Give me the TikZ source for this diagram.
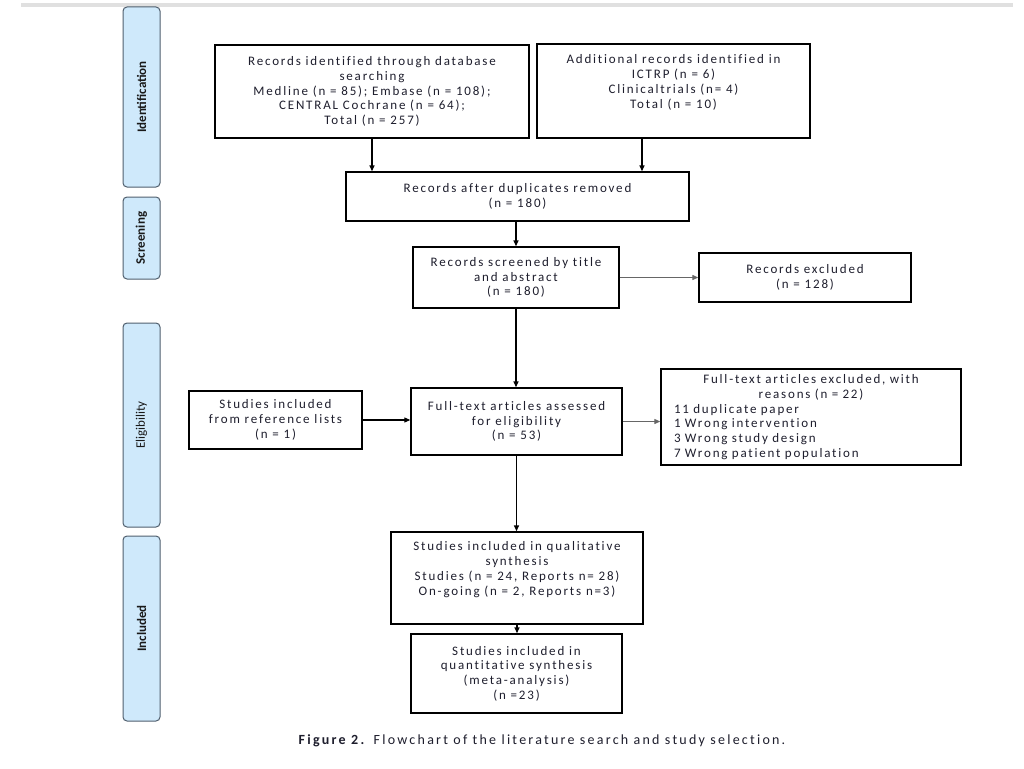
\documentclass[tikz,border=0pt]{standalone}
\usepackage{fontspec}
\setmainfont[LetterSpace=14,Ligatures=NoCommon]{Carlito}
\newfontfamily\sidefont{Carlito}
\newfontfamily\capfont[LetterSpace=16,Ligatures=NoCommon]{Carlito}
\usetikzlibrary{arrows.meta}
\definecolor{barfill}{RGB}{207,233,251}
\definecolor{barline}{RGB}{80,95,110}
\definecolor{txt}{RGB}{30,30,45}
\begin{document}
\begin{tikzpicture}[x=1pt,y=-1pt,
  box/.style={draw=black,line width=1.4pt,fill=white,inner sep=0pt,align=center,
    font=\fontsize{13}{14.7}\selectfont,text=txt},
  bar/.style={draw=barline,line width=1pt,fill=barfill,rounded corners=4pt,rotate=90,
    minimum height=37pt,inner sep=0pt,font=\sidefont\fontsize{13}{15}\selectfont,text=black!90},
  arr/.style={-{Triangle[length=6pt,width=5pt]},line width=1.4pt},
  garr/.style={-{Triangle[length=6pt,width=5pt]},line width=1.2pt,draw=black!60},
]
\useasboundingbox (0,0) rectangle (1024,768);
\fill[white] (0,0) rectangle (1024,768);
\fill[black!12] (21,3) rectangle (1013,7);

% side bars
\node[bar,minimum width=180pt] (sid) at (141.5,97) {\bfseries Identification};
\node[bar,minimum width=82pt] (ssc) at (141.5,238) {\bfseries Screening};
\node[bar,minimum width=204pt] (sel) at (141.5,425) {Eligibility};
\node[bar,minimum width=185pt] (sin) at (141.5,628.5) {\bfseries Included};

% boxes
\node[box,minimum width=314pt,minimum height=93pt] (b1) at (372,91.5)
  {Records identified through database\\searching\\Medline (n = 85); Embase (n = 108);\\CENTRAL Cochrane (n = 64);\\Total (n = 257)};
\node[box,minimum width=273pt,minimum height=94pt] (b2) at (673.5,91)
  {Additional records identified in\\ICTRP (n = 6)\\Clinicaltrials (n= 4)\\Total (n = 10)\\\strut};
\node[box,minimum width=343pt,minimum height=49pt] (b3) at (517.5,196.5)
  {Records after duplicates removed\\(n = 180)};
\node[box,minimum width=206pt,minimum height=61pt] (b4) at (516,277.5)
  {Records screened by title\\and abstract\\(n = 180)};
\node[box,minimum width=212pt,minimum height=49pt] (ex1) at (805,277.5)
  {Records excluded\\(n = 128)};
\node[box,minimum width=173pt,minimum height=58pt] (ref) at (275.5,420)
  {Studies included\\from reference lists\\(n = 1)};
\node[box,minimum width=211pt,minimum height=67pt] (ft) at (516.5,421.5)
  {Full-text articles assessed\\for eligibility\\(n = 53)};
\node[box,minimum width=300pt,minimum height=96pt,align=left,text width=274pt,inner xsep=13pt] (ex2) at (811,417)
  {\centering Full-text articles excluded, with\\reasons (n = 22)\par\raggedright
   11 duplicate paper\\1 Wrong intervention\\3 Wrong study design\\7 Wrong patient population};
\node[box,minimum width=252pt,minimum height=92pt] (qual) at (517,578)
  {Studies included in qualitative\\synthesis\\Studies (n = 24, Reports n= 28)\\On-going (n = 2, Reports n=3)\\\strut};
\node[box,minimum width=211pt,minimum height=79pt] (quant) at (516.5,673.5)
  {Studies included in\\quantitative synthesis\\(meta-analysis)\\(n =23)};

% connectors
\draw[arr] (b1.south) -- (b1.south |- b3.north);
\draw[arr] ([xshift=-31.5pt]b2.south) -- ([xshift=-31.5pt]b2.south |- b3.north);
\draw[arr] (b4.north |- b3.south) -- (b4.north);
\draw[arr] (b4.south) -- (b4.south |- ft.north);
\draw[arr] (ft.south) -- (ft.south |- qual.north);
\draw[arr] (qual.south) -- (qual.south |- quant.north);
\draw[garr] (b4.east) -- (ex1.west);
\draw[arr,line width=1.1pt] (ref.east) -- (ref.east -| ft.west);
\draw[garr] (ft.east) -- (ft.east -| ex2.west);

% caption
\node[font=\capfont\fontsize{14}{16}\selectfont,text=txt] (cap) at (542,741)
  {\textbf{Figure 2.} Flowchart of the literature search and study selection.};
\end{tikzpicture}
\end{document}
